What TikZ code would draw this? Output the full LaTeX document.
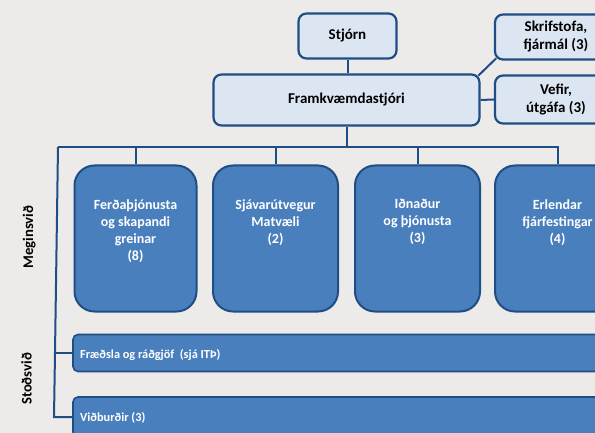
\documentclass[tikz,border=0pt]{standalone}
\usepackage{fontspec}
\setmainfont{Carlito}
\usetikzlibrary{calc}
\definecolor{bg}{HTML}{ECEBE9}
\definecolor{navy}{HTML}{1F4E84}
\definecolor{lightfill}{HTML}{DCE6F2}
\definecolor{mainfill}{HTML}{4A7FBD}
\begin{document}
\begin{tikzpicture}[x=1pt,y=-1pt,
  topbox/.style={draw=navy, line width=2.2pt, fill=lightfill, rounded corners=8pt, inner sep=0pt, align=center, text=black, font=\fontsize{15}{18}\selectfont\bfseries},
  mainbox/.style={draw=navy, line width=2pt, fill=mainfill, rounded corners=20pt, minimum width=125pt, minimum height=146pt, inner sep=0pt},
  maintext/.style={text=white, align=center, inner sep=0pt, anchor=north, font=\fontsize{14}{17}\selectfont\bfseries},
  stripbox/.style={draw=navy, line width=1.6pt, fill=mainfill, rounded corners=5pt, minimum width=570pt, inner sep=0pt},
  striptext/.style={text=white, inner sep=0pt, anchor=base west, font=\fontsize{12.3}{15}\selectfont\bfseries},
  sidelabel/.style={rotate=90, anchor=base, inner sep=0pt, text=black, font=\fontsize{14.7}{17}\selectfont\bfseries},
  conn/.style={draw=navy, line width=2pt}]
\useasboundingbox (0,0) rectangle (595,433);
\clip (0,0) rectangle (595,433);
\fill[bg] (0,0) rectangle (595,433);

% top level
\node[topbox, minimum width=98pt, minimum height=45pt] (stjorn) at (347.5,36) {Stjórn};
\node[topbox, minimum width=266pt, minimum height=51pt] (framk) at (346.5,100) {Framkvæmdastjóri};
\node[topbox, minimum width=122pt, minimum height=45pt] (skrif) at (556,37) {Skrifstofa,\\fjármál (3)};
\node[topbox, minimum width=122pt, minimum height=48pt] (vefir) at (556,99.5) {Vefir,\\útgáfa (3)};

% main areas
\node[mainbox, minimum width=122pt] (m1) at (135.5,238.5) {};
\node[mainbox] (m2) at (275.5,238.5) {};
\node[mainbox] (m3) at (417.5,238.5) {};
\node[mainbox] (m4) at (557.5,238.5) {};
\node[maintext] (m1t) at (135.5,199) {Ferðaþjónusta\\og skapandi\\greinar\\(8)};
\node[maintext] (m2t) at (275.5,199) {Sjávarútvegur\\Matvæli\\(2)};
\node[maintext] (m3t) at (417.5,199) {Iðnaður\\og þjónusta\\(3)};
\node[maintext] (m4t) at (557.5,199) {Erlendar\\fjárfestingar\\(4)};

% support strips
\node[stripbox, minimum height=37pt] (s1) at (358,353) {};
\node[stripbox, minimum height=40pt] (s2) at (358,417) {};
\node[striptext] (s1t) at (80,358) {Fræðsla og ráðgjöf~ (sjá ITÞ)};
\node[striptext] (s2t) at (80,421.5) {Viðburðir (3)};

% side labels
\node[sidelabel] (meg) at (33,237) {Meginsvið};
\node[sidelabel] (stod) at (31.5,379) {Stoðsvið};

% connectors
\coordinate (busL) at (58,147);
\coordinate (busM) at (55,353);
\coordinate (busB) at (54,417);
\draw[conn] (stjorn.south) -- (stjorn.south |- framk.north);
\draw[conn] ([xshift=-2.3pt,yshift=-2.3pt]framk.north east) -- ([xshift=2.3pt,yshift=2.3pt]skrif.south west);
\draw[conn] (framk.east) -- (vefir.west);
\draw[conn] (framk.south) -- (framk.south |- busL);
\draw[conn] (busL) -- (m4.north |- busL) -- (m4.north);
\draw[conn] (m1.north |- busL) -- (m1.north);
\draw[conn] (m2.north |- busL) -- (m2.north);
\draw[conn] (m3.north |- busL) -- (m3.north);
\draw[conn] (busL) -- (busM) -- (busB) -- (s2.west);
\draw[conn] (busM) -- (s1.west);
\end{tikzpicture}
\end{document}
